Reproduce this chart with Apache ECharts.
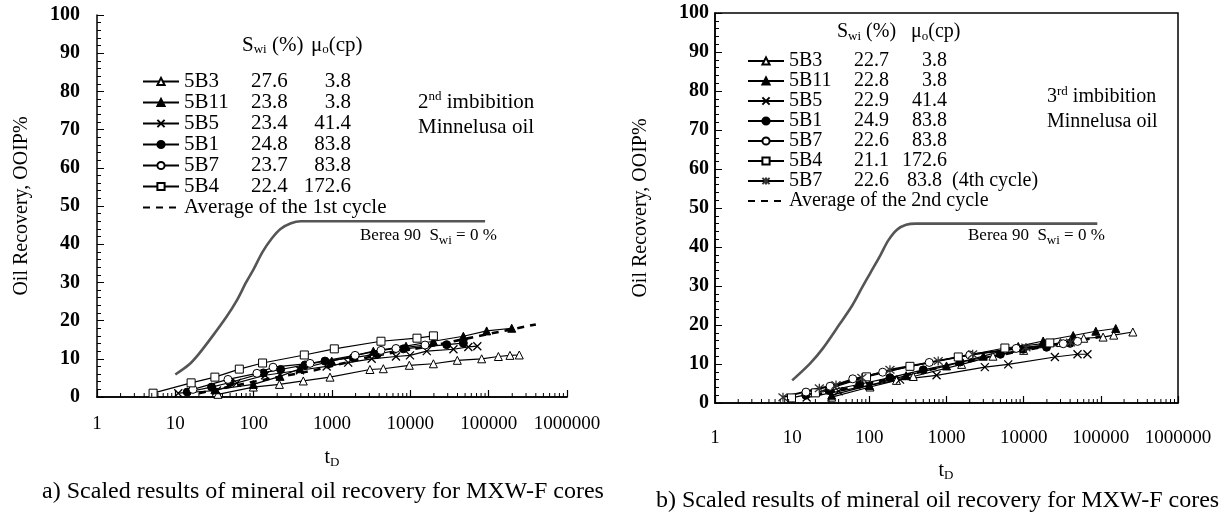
<!DOCTYPE html>
<html><head><meta charset="utf-8">
<script src="https://cdn.jsdelivr.net/npm/echarts@6/dist/echarts.min.js"></script>
<style>html,body{margin:0;padding:0;background:#fff}#c{width:1220px;height:514px}</style>
</head><body><div id="c"></div>
<script>
// ---------- data (t_D, recovery %) ----------
// chart a) 2nd imbibition
const a_5B3  = [[35,0.7],[99,2.6],[213,3.3],[430,4.2],[943,5.2],[3050,7.2],[4520,7.4],[9700,8.3],[19700,8.7],[39800,9.6],[81400,10.0],[133000,10.6],[187000,10.9],[246000,11.0]];
const a_5B11 = [[32,1.9],[99,3.3],[217,5.4],[390,7.4],[991,9.4],[3370,12.0],[8810,13.3],[19700,14.6],[47500,15.9],[94300,17.3],[197000,18.0]];
const a_5B5  = [[10.9,1.0],[34,1.7],[61,3.7],[140,5.7],[390,7.0],[855,8.0],[1610,9.0],[3210,10.0],[6560,10.6],[9900,10.9],[16200,12.0],[35500,12.5],[55000,13.1],[71600,13.3]];
const a_5B1  = [[14.2,1.3],[29,2.6],[50,3.8],[133,6.3],[221,7.2],[452,8.4],[813,9.4],[1870,10.3],[3790,11.2],[8150,12.6],[29100,13.7],[47500,14.1]];
const a_5B7  = [[16.8,2.0],[47,4.6],[110,6.2],[177,7.8],[524,8.8],[1970,10.9],[4220,12.2],[6560,12.7],[15400,13.6]];
const a_5B4  = [[5.2,1.0],[15.9,3.7],[32,5.2],[65.6,7.3],[130,8.9],[443,11.0],[1070,12.6],[4220,14.6],[12160,15.4],[19700,16.0]];
const a_avg  = [[20,1.0],[100,4.0],[600,7.0],[3000,10.5],[20000,13.5],[100000,16.5],[400000,19.0]];
const a_berea = [[10,5.9],[15,8.5],[20,11.3],[30,16],[45,21],[61,25.3],[80,30],[100,33.5],[130,38],[170,41.5],[220,44],[300,45.5],[400,46],[1000,46],[90000,46]];
// chart b) 3rd imbibition
const b_5B3  = [[32.5,1.5],[102,4.1],[225,5.8],[371,6.8],[1570,9.9],[4000,12.0],[10000,13.5],[30000,15.5],[60000,16.6],[107000,16.9],[147000,17.4],[260000,18.2]];
const b_5B11 = [[32.5,2.0],[100,4.5],[300,7.0],[1000,9.5],[3000,12.0],[8500,14.5],[17900,15.9],[43800,17.3],[86100,18.4],[156000,19.1]];
const b_5B5  = [[15.4,1.4],[40,3.0],[100,4.5],[250,6.0],[743,7.1],[3140,9.2],[6310,9.9],[25400,11.8],[49900,12.5],[67100,12.5]];
const b_5B1  = [[15,2.0],[30,3.2],[75,4.8],[185,6.5],[500,8.5],[1500,10.5],[5000,12.5],[9860,13.8],[19800,14.3],[40000,15.3]];
const b_5B7  = [[15.1,2.8],[31,4.3],[61,6.2],[149,7.9],[597,10.4],[2000,12.3],[8000,14.0],[32600,15.2],[50000,15.8]];
const b_5B4  = [[9.8,1.3],[20,2.6],[92,6.7],[336,9.4],[1420,11.8],[5710,14.1],[21800,15.4]];
const b_5B7c4 = [[7.6,1.5],[22.5,3.8],[37,4.6],[80,6.5],[185,8.5],[781,10.8],[2180,12.5],[10700,14.2],[40400,15.5]];
const b_avg  = [[20,2.0],[100,5.0],[1000,9.5],[10000,13.5],[100000,17.0]];
const b_berea = [[10,5.8],[17,10.1],[25,14],[41.5,20.3],[60,25],[80,29.5],[102,33.2],[140,38],[176,41.7],[230,44.5],[300,45.7],[400,46],[1000,46],[90000,46]];

// legend table values: [label, Swi, mu_o]
const a_legend = {'a5B3':['5B3','27.6','3.8'],'a5B11':['5B11','23.8','3.8'],'a5B5':['5B5','23.4','41.4'],'a5B1':['5B1','24.8','83.8'],'a5B7':['5B7','23.7','83.8'],'a5B4':['5B4','22.4','172.6'],'aavg':['Average of the 1st cycle']};
const b_legend = {'b5B3':['5B3','22.7','3.8'],'b5B11':['5B11','22.8','3.8'],'b5B5':['5B5','22.9','41.4'],'b5B1':['5B1','24.9','83.8'],'b5B7':['5B7','22.6','83.8'],'b5B4':['5B4','21.1','172.6'],'b5B7c4':['5B7','22.6','83.8',' (4th cycle)'],'bavg':['Average of the 2nd cycle']};

const xTickLabels = ['1','10','100','1000','10000','100000','1000000'];
// positions of the minor (2..9 x 10^k) tick marks of the log axis
const minorTicks = [];
for (let k = 0; k < 6; k++) for (let m = 2; m <= 9; m++) minorTicks.push([m * Math.pow(10, k), 0]);

const FF = 'Liberation Serif';
const CROSS = 'path://M0,0L10,10M10,0L0,10';
const STAR = 'path://M0,0L10,10M10,0L0,10M5,-1L5,11';

function mk(name, data, xi, symbol, filled, extra) {
  const s = {
    type: 'line', name: name, data: data, xAxisIndex: xi, yAxisIndex: xi,
    symbol: symbol, symbolSize: 8, showSymbol: true, z: 5,
    lineStyle: {color: '#000', width: 1.2},
    itemStyle: filled === 'line' ? {color: '#000', borderColor: '#000', borderWidth: 1.3}
              : filled ? {color: '#000', borderColor: '#000', borderWidth: 1}
              : {color: '#fff', borderColor: '#000', borderWidth: 1},
    emphasis: {disabled: true}, animation: false
  };
  return Object.assign(s, extra || {});
}
function avg(name, data, xi) {
  return {type: 'line', name: name, data: data, xAxisIndex: xi, yAxisIndex: xi, symbol: 'none', z: 4,
    lineStyle: {color: '#000', width: 2.6, type: [7, 6]}, itemStyle: {color: '#000'}, emphasis: {disabled: true}, animation: false};
}
function berea(data, xi) {
  return {type: 'line', name: 'berea' + xi, data: data, xAxisIndex: xi, yAxisIndex: xi, symbol: 'none', z: 3,
    smooth: 0.3, lineStyle: {color: '#555', width: 2.6}, emphasis: {disabled: true}, animation: false};
}
function minorSeries(xi) {
  return {type: 'custom', name: 'minor' + xi, xAxisIndex: xi, yAxisIndex: xi, data: minorTicks, silent: true, z: 6, clip: false,
    renderItem: function (params, api) {
      const p = api.coord([api.value(0), api.value(1)]);
      return {type: 'line', shape: {x1: p[0], y1: p[1], x2: p[0], y2: p[1] - 4}, style: {stroke: '#000', lineWidth: 1}};
    }, animation: false};
}

function legendFor(map, left, top, fs, lh, wN, wS, wM) {
  const rs = {fontFamily: FF, fontSize: fs, lineHeight: lh, color: '#000'};
  return {
    left: left, top: top, orient: 'vertical', padding: 0, itemGap: 0,
    itemWidth: 36, itemHeight: 9, selectedMode: false,
    data: Object.keys(map).map(function (k) {
      return map[k].length === 1 ? {name: k, itemStyle: {opacity: 0}} : {name: k};
    }),
    formatter: function (name) {
      const r = map[name];
      if (r.length === 1) return '{e|' + r[0] + '}';
      return '{n|' + r[0] + '}{s|' + r[1] + '}{m|' + r[2] + '}' + (r[3] ? '{e|' + r[3] + '}' : '');
    },
    textStyle: {fontFamily: FF, fontSize: fs, lineHeight: lh, color: '#000', padding: [0,0,0,0],
      rich: {n: Object.assign({width: wN}, rs), s: Object.assign({width: wS}, rs), m: Object.assign({width: wM, align: 'right'}, rs), e: rs}}
  };
}

function yAx(gi, fs, margin) {
  return {type: 'value', gridIndex: gi, min: 0, max: 100, interval: 10,
    axisLine: {show: true, lineStyle: {color: '#000', width: 1.5}},
    axisTick: {show: true, inside: true, length: 7, lineStyle: {color: '#000'}},
    minorTick: {show: true, splitNumber: 5, length: 4, lineStyle: {color: '#000'}},
    splitLine: {show: false},
    axisLabel: {fontFamily: FF, fontSize: fs, fontWeight: 'bold', color: '#000', margin: margin}};
}
function xAx(gi, fs, margin) {
  return {type: 'log', logBase: 10, gridIndex: gi, min: 1, max: 1000000, position: 'bottom',
    axisLine: {show: true, onZero: false, lineStyle: {color: '#000', width: 1.5}},
    axisTick: {show: true, inside: true, length: 7, lineStyle: {color: '#000', width: 1.2}},
    splitLine: {show: false},
    axisLabel: {fontFamily: FF, fontSize: fs, color: '#000', margin: margin,
      formatter: function (v) { return xTickLabels[Math.round(Math.log10(v))]; }}};
}

const sub = {fontSize: 13, padding: [9, 0, 0, 0], fontFamily: FF, color: '#000'};
const sup = {fontSize: 13, padding: [0, 0, 10, 0], fontFamily: FF, color: '#000'};
function txt(x, y, text, fs, extra) {
  return Object.assign({type: 'text', x: x, y: y, silent: true, style: Object.assign({text: text, fontFamily: FF, fontSize: fs, fill: '#000',
    verticalAlign: 'middle', rich: {sub: Object.assign({}, sub), sup: Object.assign({}, sup)}}, (extra && extra.style) || {})},
    extra && extra.rotation ? {rotation: extra.rotation} : {});
}

const option = {
  backgroundColor: '#fff',
  animation: false,
  grid: [
    {left: 97, top: 15, width: 470, height: 382},
    {left: 715, top: 13, width: 463, height: 390, show: true, borderColor: '#000', borderWidth: 1.5, backgroundColor: 'transparent'}
  ],
  xAxis: [
    xAx(0, 19, 18), xAx(1, 19, 26),
    {type: 'log', gridIndex: 0, min: 1, max: 1000000, position: 'top', axisLine: {show: true, lineStyle: {color: '#000', width: 1.5}}, axisTick: {show: false}, axisLabel: {show: false}, splitLine: {show: false}}
  ],
  yAxis: [
    yAx(0, 20, 17), yAx(1, 20, 6)
  ],
  legend: [
    legendFor(a_legend, 142, 71, 21, 18.3, 67, 50, 50),
    legendFor(b_legend, 747, 51, 20, 17.4, 65, 48, 45)
  ],
  series: [
    minorSeries(0), minorSeries(1),
    berea(a_berea, 0),
    mk('a5B3', a_5B3, 0, 'triangle', false),
    mk('a5B11', a_5B11, 0, 'triangle', true),
    mk('a5B5', a_5B5, 0, CROSS, 'line'),
    mk('a5B1', a_5B1, 0, 'circle', true),
    mk('a5B7', a_5B7, 0, 'circle', false),
    mk('a5B4', a_5B4, 0, 'rect', false),
    avg('aavg', a_avg, 0),
    berea(b_berea, 1),
    mk('b5B3', b_5B3, 1, 'triangle', false),
    mk('b5B11', b_5B11, 1, 'triangle', true),
    mk('b5B5', b_5B5, 1, CROSS, 'line'),
    mk('b5B1', b_5B1, 1, 'circle', true),
    mk('b5B7', b_5B7, 1, 'circle', false),
    mk('b5B4', b_5B4, 1, 'rect', false),
    mk('b5B7c4', b_5B7c4, 1, STAR, 'line', {lineStyle: {color: '#000', width: 2}, symbolSize: 9, itemStyle: {color: '#333', borderColor: '#333', borderWidth: 1.3}}),
    avg('bavg', b_avg, 1)
  ],
  graphic: [
    txt(242, 45, 'S{sub|wi} (%)', 21),
    txt(311, 45, 'μ{sub|o}(cp)', 21),
    txt(837, 32, 'S{sub|wi} (%)', 20),
    txt(911, 32, 'μ{sub|o}(cp)', 20),
    txt(418, 102, '2{sup|nd} imbibition', 21),
    txt(418, 127, 'Minnelusa oil', 21),
    txt(1047, 97, '3{sup|rd} imbibition', 20),
    txt(1047, 122, 'Minnelusa oil', 20),
    txt(360, 236, 'Berea 90  S{sub|wi} = 0 %', 17),
    txt(968, 236, 'Berea 90  S{sub|wi} = 0 %', 17),
    txt(332, 458, 't{sub|D}', 20, {style: {align: 'center'}}),
    txt(946, 471, 't{sub|D}', 20, {style: {align: 'center'}}),
    txt(22, 206, 'Oil Recovery, OOIP%', 20, {rotation: Math.PI / 2, style: {align: 'center'}}),
    txt(641, 208, 'Oil Recovery, OOIP%', 20, {rotation: Math.PI / 2, style: {align: 'center'}}),
    txt(323, 492, 'a) Scaled results of mineral oil recovery for MXW-F cores', 24, {style: {align: 'center'}}),
    txt(656, 501, 'b) Scaled results of mineral oil recovery for MXW-F cores', 24)
  ]
};
const chart = echarts.init(document.getElementById('c'), null, {renderer: 'canvas'});
chart.setOption(option);
</script></body></html>
